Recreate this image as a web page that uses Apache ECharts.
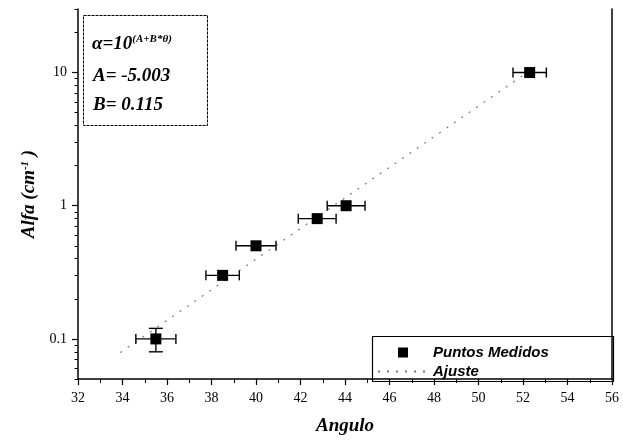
<!DOCTYPE html>
<html>
<head>
<meta charset="utf-8">
<script src="https://cdn.jsdelivr.net/npm/echarts@6/dist/echarts.min.js"></script>
<style>html,body{margin:0;padding:0;background:#fff}#c{width:623px;height:441px}</style>
</head>
<body>
<div id="c"></div>
<script>
// ---- data ----
const angulo      = [35.5, 38.5, 40.0, 42.75, 44.05, 52.3];
const alfa        = [0.10, 0.30, 0.50, 0.80, 1.00, 10.0];
const errAngulo   = [0.9, 0.75, 0.9, 0.85, 0.85, 0.75];
const alfaLow     = [0.08, null, null, null, null, null];
const alfaHigh    = [0.12, null, null, null, null, null];
const ajusteAngulo = [33.9, 52.3];
const ajusteAlfa   = [0.079, 10.3];
const xTicks = [32, 34, 36, 38, 40, 42, 44, 46, 48, 50, 52, 54, 56];
const yMajor = [0.1, 1, 10];
const yMinor = [0.05,0.06,0.07,0.08,0.09,0.2,0.3,0.4,0.5,0.6,0.7,0.8,0.9,2,3,4,5,6,7,8,9,20,30];
const fitText = ['A= -5.003', 'B= 0.115'];

const serif = '"Liberation Serif","DejaVu Serif",serif';
const sans = '"Liberation Sans",Arial,sans-serif';

const chart = echarts.init(document.getElementById('c'));
const pts = angulo.map((x, i) => [x, alfa[i], errAngulo[i], alfaLow[i], alfaHigh[i]]);

const yCommon = {type: 'log', logBase: 10, min: 0.05, max: 30, splitLine: {show: false}};

chart.setOption({
  animation: false,
  backgroundColor: '#fff',
  grid: {left: 78, right: 11, top: 9, bottom: 60},
  xAxis: {
    type: 'value', min: 32, max: 56, interval: 2,
    axisLine: {lineStyle: {color: '#000', width: 1.5}},
    axisTick: {length: 6, lineStyle: {color: '#000', width: 1.2}},
    minorTick: {show: true, splitNumber: 2, length: 4, lineStyle: {color: '#000', width: 1}},
    splitLine: {show: false},
    axisLabel: {color: '#000', fontFamily: serif, fontSize: 14, margin: 12},
    name: 'Angulo', nameLocation: 'middle', nameGap: 38,
    nameTextStyle: {color: '#000', fontFamily: serif, fontSize: 19, fontWeight: 'bold', fontStyle: 'italic'}
  },
  yAxis: [
    Object.assign({}, yCommon, {
      position: 'left',
      axisLine: {lineStyle: {color: '#000', width: 1.5}},
      axisTick: {length: 6, customValues: yMajor, lineStyle: {color: '#000', width: 1.2}},
      axisLabel: {customValues: yMajor, color: '#000', fontFamily: serif, fontSize: 14, margin: 11,
                  formatter: v => String(v)},
      name: '{a|Alfa (cm}{s|-1}{a| )}', nameLocation: 'middle', nameGap: 37, nameRotate: 90,
      nameTextStyle: {rich: {
        a: {color: '#000', fontFamily: serif, fontSize: 19, fontWeight: 'bold', fontStyle: 'italic'},
        s: {color: '#000', fontFamily: serif, fontSize: 11, fontWeight: 'bold', fontStyle: 'italic', verticalAlign: 'top', padding: [0, 0, 8, 0]}
      }}
    }),
    Object.assign({}, yCommon, {
      position: 'left',
      axisLine: {show: false},
      axisTick: {length: 3.5, customValues: yMinor, lineStyle: {color: '#000', width: 1}},
      axisLabel: {show: false}
    }),
    Object.assign({}, yCommon, {
      position: 'right',
      axisLine: {show: true, lineStyle: {color: '#000', width: 1.5}},
      axisTick: {show: false},
      axisLabel: {show: false}
    })
  ],
  legend: {
    orient: 'vertical', left: 372, top: 340, itemGap: 4,
    itemWidth: 50, itemHeight: 10,
    textStyle: {color: '#000', fontFamily: sans, fontSize: 15, fontWeight: 'bold', fontStyle: 'italic'},
    data: [
      {name: 'Puntos Medidos', icon: 'path://M0,0L10,0L10,10L0,10Z', itemStyle: {color: '#000', opacity: 1}},
      {name: 'Ajuste', itemStyle: {opacity: 0, color: 'rgba(0,0,0,0)', borderWidth: 0}}
    ]
  },
  graphic: [
    {type: 'rect', left: 370, top: 334, shape: {width: 241, height: 45},
     style: {fill: 'none', stroke: '#000', lineWidth: 1.2}, z: 100},
    {type: 'rect', left: 83, top: 15, shape: {width: 124, height: 110},
     style: {fill: '#fff', stroke: '#000', lineWidth: 1, lineDash: [3, 1]}, z: 100},
    {type: 'text', left: 92, top: 34, z: 101,
     style: {text: '{a|α=10}{s|(A+B*θ)}', rich: {
       a: {fill: '#000', fontFamily: serif, fontSize: 19, fontWeight: 'bold', fontStyle: 'italic'},
       s: {fill: '#000', fontFamily: serif, fontSize: 11, fontWeight: 'bold', fontStyle: 'italic', verticalAlign: 'top', padding: [0, 0, 9, 0]}
     }}},
    {type: 'text', left: 93, top: 67, z: 101,
     style: {text: fitText[0], fill: '#000', fontFamily: serif, fontSize: 19, fontWeight: 'bold', fontStyle: 'italic'}},
    {type: 'text', left: 93, top: 96, z: 101,
     style: {text: fitText[1], fill: '#000', fontFamily: serif, fontSize: 19, fontWeight: 'bold', fontStyle: 'italic'}}
  ],
  series: [
    {
      name: 'Ajuste', type: 'line', yAxisIndex: 0, symbol: 'none',
      data: ajusteAngulo.map((x, i) => [x, ajusteAlfa[i]]),
      lineStyle: {color: '#7a7a7a', width: 1.2, type: [2, 7]},
      itemStyle: {color: '#7a7a7a'}, z: 2
    },
    {
      name: 'errbars', type: 'custom', yAxisIndex: 0, z: 3,
      data: pts,
      renderItem: function (params, api) {
        const x = api.value(0), y = api.value(1), ex = api.value(2);
        const lo = api.value(3), hi = api.value(4);
        const pL = api.coord([x - ex, y]), pR = api.coord([x + ex, y]);
        const c = 5;
        const st = {stroke: '#000', lineWidth: 1.4};
        const children = [
          {type: 'line', shape: {x1: pL[0], y1: pL[1], x2: pR[0], y2: pR[1]}, style: st},
          {type: 'line', shape: {x1: pL[0], y1: pL[1] - c, x2: pL[0], y2: pL[1] + c}, style: st},
          {type: 'line', shape: {x1: pR[0], y1: pR[1] - c, x2: pR[0], y2: pR[1] + c}, style: st}
        ];
        if (lo && hi && !isNaN(lo) && !isNaN(hi)) {
          const pB = api.coord([x, lo]), pT = api.coord([x, hi]);
          children.push(
            {type: 'line', shape: {x1: pB[0], y1: pB[1], x2: pT[0], y2: pT[1]}, style: st},
            {type: 'line', shape: {x1: pB[0] - 7, y1: pB[1], x2: pB[0] + 7, y2: pB[1]}, style: st},
            {type: 'line', shape: {x1: pT[0] - 7, y1: pT[1], x2: pT[0] + 7, y2: pT[1]}, style: st}
          );
        }
        return {type: 'group', children: children};
      }
    },
    {
      name: 'Puntos Medidos', type: 'scatter', yAxisIndex: 0, z: 4,
      symbol: 'rect', symbolSize: 11,
      data: angulo.map((x, i) => [x, alfa[i]]),
      itemStyle: {color: '#000', opacity: 1}
    }
  ]
});
</script>
</body>
</html>
